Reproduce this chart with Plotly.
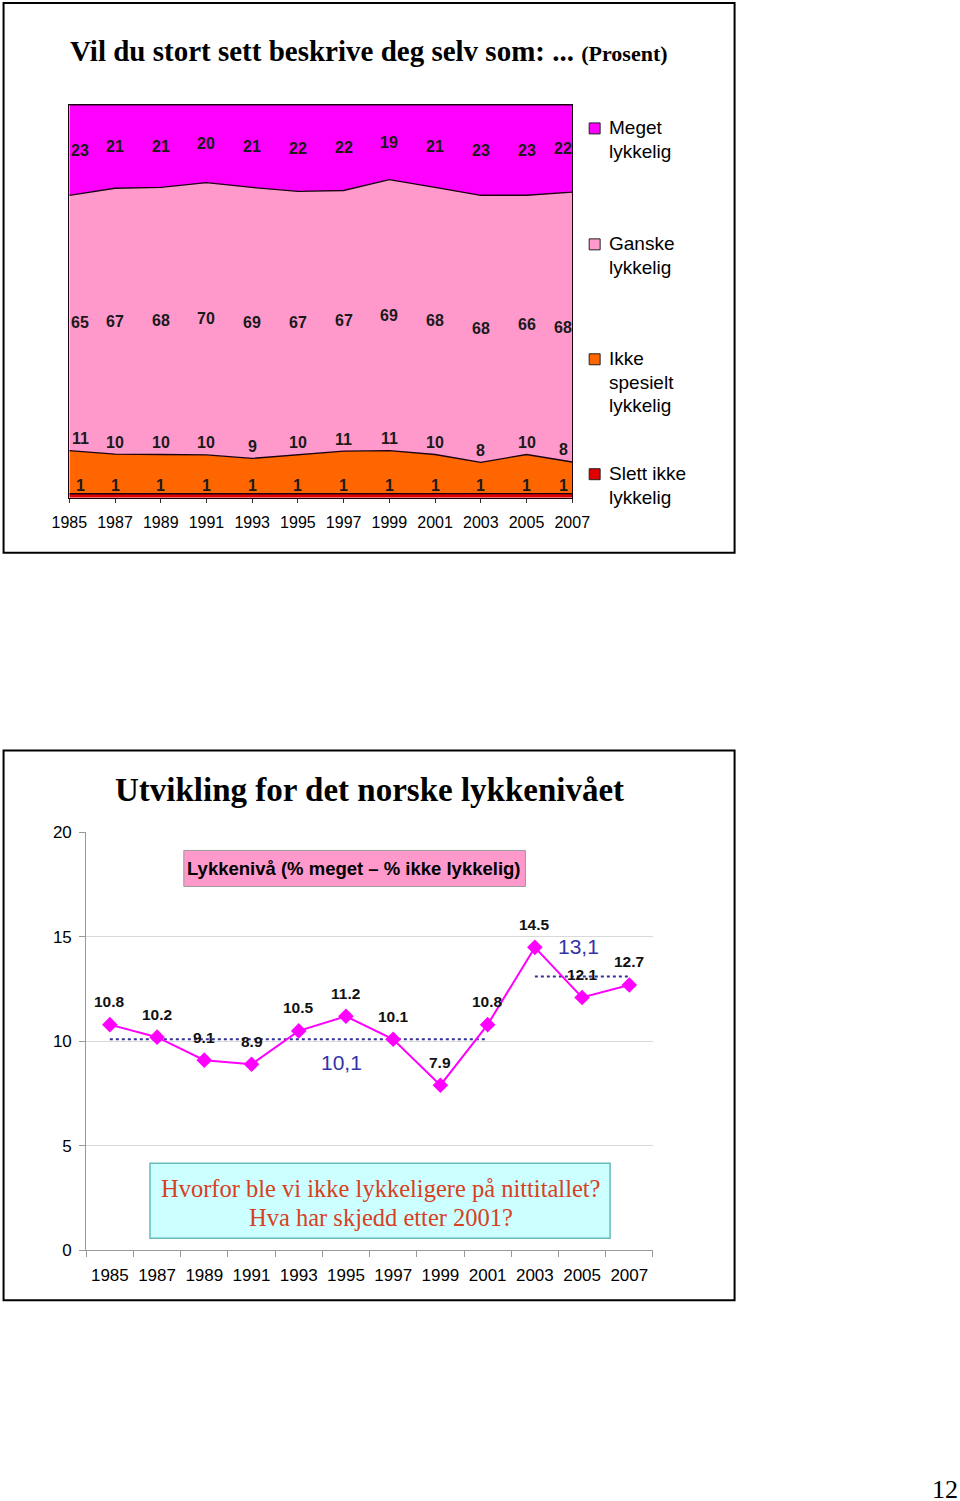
import numpy as np
import plotly.graph_objects as go

# ---------------- data ----------------
years = [1985, 1987, 1989, 1991, 1993, 1995, 1997, 1999, 2001, 2003, 2005, 2007]
meget = [23, 21, 21, 20, 21, 22, 22, 19, 21, 23, 23, 22]
ganske = [65, 67, 68, 70, 69, 67, 67, 69, 68, 68, 66, 68]
ikke_spesielt = [11, 10, 10, 10, 9, 10, 11, 11, 10, 8, 10, 8]
slett_ikke = [1, 1, 1, 1, 1, 1, 1, 1, 1, 1, 1, 1]
series_names = ["Meget\nlykkelig", "Ganske\nlykkelig", "Ikke\nspesielt\nlykkelig", "Slett ikke\nlykkelig"]

level_years = [str(y) for y in years]
level = [10.8, 10.2, 9.1, 8.9, 10.5, 11.2, 10.1, 7.9, 10.8, 14.5, 12.1, 12.7]
avg_periods = [(level_years[0], level_years[8]), (level_years[9], level_years[11])]
avg_values = [10.1, 13.1]
avg_labels = ["10,1", "13,1"]

# figure size; page position -> figure coordinates
W, H = 975, 1505
OX, OY, KX, KY = 15.5, 8.0, 0.967, 0.988
def px(x):
    return ((x - OX) / KX) / W
def py(y):
    return 1 - ((y - OY) / KY) / H

ARIAL = "Arial, Liberation Sans, sans-serif"
TIMES = "Times New Roman, Liberation Serif, serif"

colors = ["#FF00FF", "#FF99CC", "#FF6600", "#E00000"]

fig = go.Figure()

# ---------------- top chart: 100% stacked area ----------------
stack_data = [slett_ikke, ikke_spesielt, ganske, meget]
stack_names = series_names[::-1]
stack_colors = colors[::-1]
for vals, nm, col in zip(stack_data, stack_names, stack_colors):
    fig.add_trace(go.Scatter(
        x=years, y=vals, name=nm.replace("\n", " "), stackgroup="one", groupnorm="percent",
        mode="lines", line=dict(color="#1a0010", width=1.3), fillcolor=col,
        showlegend=False, xaxis="x", yaxis="y", hoverinfo="skip"))

arr = np.array([slett_ikke, ikke_spesielt, ganske, meget], dtype=float)
norm = arr / arr.sum(axis=0) * 100
cum = np.cumsum(norm, axis=0)

annotations = []
n = len(years)
for i, yr in enumerate(years):
    xs = 11 if i == 0 else (-9 if i == n - 1 else 0)
    items = [
        (meget[i], cum[3, i] - norm[3, i] / 2, 0),
        (ganske[i], cum[2, i] - norm[2, i] / 2, 0),
        (ikke_spesielt[i], cum[1, i], 12),
        (slett_ikke[i], cum[0, i], 8),
    ]
    for v, yv, ys in items:
        annotations.append(dict(
            x=yr, y=yv, xref="x", yref="y", text=f"<b>{v}</b>", showarrow=False,
            xanchor="center", yanchor="middle",
            xshift=xs, yshift=ys, font=dict(family=ARIAL, size=16, color="#1a1a1a")))

# legend (manual)
leg_tops = [127, 243, 358, 473]
for nm, col, yc in zip(series_names, colors, leg_tops):
    fig.add_shape(type="rect", xref="paper", yref="paper",
                  x0=px(589), x1=px(600), y0=py(yc + 6), y1=py(yc - 5),
                  fillcolor=col, line=dict(color="#222222", width=1))
    for k, line in enumerate(nm.split("\n")):
        annotations.append(dict(
            x=px(607), y=py(yc + 23.5 * k), xref="paper", yref="paper",
            text=line, showarrow=False, xanchor="left", yanchor="middle",
            font=dict(family=ARIAL, size=19, color="#000000")))

def ptext(x, y, text, font, xanchor="center"):
    annotations.append(dict(x=px(x), y=py(y), xref="paper", yref="paper", text=text,
                            showarrow=False, xanchor=xanchor, yanchor="middle", font=font))

# title top
ptext(368, 50, "<b>Vil du stort sett beskrive deg selv som: ...</b> <b><span style='font-size:22px'>(Prosent)</span></b>",
      dict(family=TIMES, size=29, color="#000000"))

# frames
fig.add_shape(type="rect", xref="paper", yref="paper", x0=px(1), x1=px(735), y0=py(552), y1=py(2),
              line=dict(color="#000000", width=2), layer="below")
fig.add_shape(type="rect", xref="paper", yref="paper", x0=px(1), x1=px(735), y0=py(1300), y1=py(750),
              line=dict(color="#000000", width=2), layer="below")

# ---------------- bottom chart ----------------
fig.add_shape(type="rect", xref="paper", yref="paper", x0=px(182), x1=px(525), y0=py(886), y1=py(850),
              fillcolor="#FF99CC", line=dict(color="#999999", width=1))
ptext(353, 868, "<b>Lykkenivå (% meget – % ikke lykkelig)</b>", dict(family=ARIAL, size=18.5, color="#000000"))
fig.add_shape(type="rect", xref="paper", yref="paper", x0=px(148), x1=px(610), y0=py(1238), y1=py(1163),
              fillcolor="#CCFFFF", line=dict(color="#66BBBB", width=1.5))
ptext(380, 1188, "Hvorfor ble vi ikke lykkeligere på nittitallet?", dict(family=TIMES, size=24.5, color="#D9401E"))
ptext(380, 1217, "Hva har skjedd etter 2001?", dict(family=TIMES, size=24.5, color="#D9401E"))

# average dotted lines
for (a, b), v in zip(avg_periods, avg_values):
    ia, ib = level_years.index(a), level_years.index(b)
    fig.add_trace(go.Scatter(
        x=list(range(ia, ib + 1)), y=[v] * (ib - ia + 1), mode="lines",
        line=dict(color="#333399", width=2, dash="dot"), showlegend=False,
        xaxis="x2", yaxis="y2", hoverinfo="skip"))

annotations.append(dict(x=5, y=avg_values[0], xref="x2", yref="y2", text=avg_labels[0],
                        showarrow=False, xanchor="center", yanchor="middle", xshift=-4, yshift=-23,
                        font=dict(family=ARIAL, size=21, color="#3333AA")))
annotations.append(dict(x=10, y=avg_values[1], xref="x2", yref="y2", text=avg_labels[1],
                        showarrow=False, xanchor="center", yanchor="middle", xshift=-4, yshift=30,
                        font=dict(family=ARIAL, size=21, color="#3333AA")))

fig.add_trace(go.Scatter(
    x=list(range(len(level))), y=level, mode="lines+markers",
    line=dict(color="#FF00FF", width=2),
    marker=dict(symbol="diamond", size=12, color="#FF00FF"),
    showlegend=False, xaxis="x2", yaxis="y2", hoverinfo="skip"))
for i, yv in enumerate(level):
    annotations.append(dict(x=i, y=yv, xref="x2", yref="y2", text=f"<b>{yv}</b>",
                            showarrow=False, xanchor="center", yanchor="middle", yshift=23,
                            font=dict(family=ARIAL, size=15.5, color="#111111")))

ptext(368, 789, "<b>Utvikling for det norske lykkenivået</b>", dict(family=TIMES, size=33, color="#000000"))
ptext(946, 1489, "12", dict(family=TIMES, size=26, color="#000000"))

fig.update_layout(
    width=W, height=H, autosize=False,
    margin=dict(l=0, r=0, t=0, b=0),
    paper_bgcolor="white", plot_bgcolor="white",
    showlegend=False,
    xaxis=dict(domain=[px(67), px(572)], range=[1985, 2007], tickvals=years,
               ticktext=[str(y) for y in years], ticks="outside", ticklen=4,
               tickcolor="#333333", showline=True, linecolor="#1a0010", linewidth=1.3,
               mirror=True, showgrid=False, zeroline=False, ticklabelstandoff=6,
               tickfont=dict(family=ARIAL, size=16, color="#000000"), anchor="y"),
    yaxis=dict(domain=[py(497), py(104)], range=[0, 100], showticklabels=False,
               showgrid=False, zeroline=False, showline=True, linecolor="#1a0010",
               linewidth=1.3, mirror=True, ticks="", anchor="x"),
    xaxis2=dict(domain=[px(84), px(653)], range=[-0.5, 11.5],
                tickvals=list(range(len(level_years))), ticktext=level_years,
                ticks="", showline=True, linecolor="#999999", showgrid=False, zeroline=False,
                ticklabelstandoff=9,
                tickfont=dict(family=ARIAL, size=17, color="#000000"), anchor="y2"),
    xaxis3=dict(domain=[px(84), px(653)], range=[-0.5, 11.5], overlaying="x2",
                tickvals=[i + 0.5 for i in range(-1, len(level_years))], showticklabels=False,
                ticks="outside", ticklen=6, tickcolor="#999999", showline=False,
                showgrid=False, zeroline=False, anchor="y2", side="bottom"),
    yaxis2=dict(domain=[py(1250), py(832)], range=[0, 20], dtick=5, tick0=0,
                ticks="outside", ticklen=6, tickcolor="#999999", showline=True,
                linecolor="#999999", showgrid=True, gridcolor="#D9D9D9", zeroline=False,
                ticklabelstandoff=4,
                tickfont=dict(family=ARIAL, size=17, color="#000000"), anchor="x2"),
    annotations=annotations,
)
fig.add_trace(go.Scatter(x=[0], y=[0], xaxis="x3", yaxis="y2", mode="markers",
                         marker=dict(opacity=0), showlegend=False, hoverinfo="skip"))

fig.write_html("out.html")
